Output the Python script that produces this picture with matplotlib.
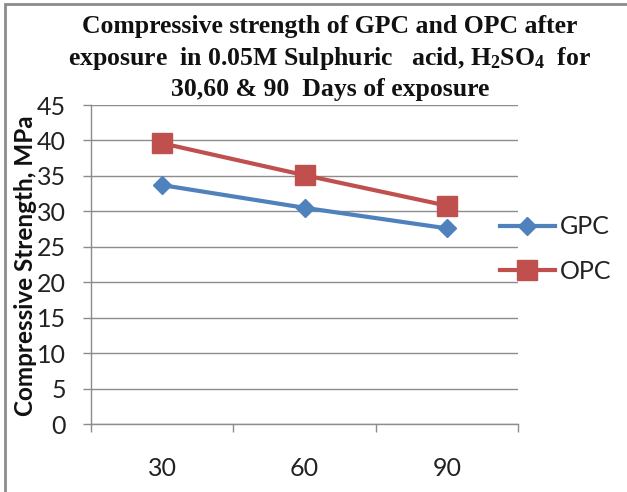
import matplotlib
matplotlib.use("Agg")
import matplotlib.pyplot as plt
from matplotlib.patches import Rectangle

days = ["30", "60", "90"]
gpc = [33.7, 30.5, 27.6]
opc = [39.6, 35.1, 30.8]
series_names = ["GPC", "OPC"]
yticks = [0, 5, 10, 15, 20, 25, 30, 35, 40, 45]

W, H = 627, 492
fig = plt.figure(figsize=(W / 100, H / 100), dpi=100)
fig.patch.set_facecolor("white")

# outer chart frame (only left and top visible)
fig.patches.append(Rectangle((5 / W, -0.5), 2.0, 1.5 - 4 / H, transform=fig.transFigure,
                             fill=False, edgecolor="#8c8c8c", linewidth=2, zorder=0))

ax = fig.add_axes([91 / W, 1 - 424 / H, (518 - 91) / W, (424 - 105) / H])

x = [1, 2, 3]
ax.plot(x, gpc, color="#4F81BD", lw=3, marker="D", markersize=9.5,
        markeredgecolor="#4F81BD", label=series_names[0], zorder=3, clip_on=False)
ax.plot(x, opc, color="#C0504D", lw=3, marker="s", markersize=14,
        markeredgecolor="#C0504D", label=series_names[1], zorder=3, clip_on=False)

ax.set_xlim(0.5, 3.5)
ax.set_ylim(0, 45)
ax.set_yticks(yticks)
ax.set_xticks(x)
ax.set_xticklabels(days)
ax.set_xticks([0.5, 1.5, 2.5, 3.5], minor=True)

for lab in ax.get_xticklabels() + ax.get_yticklabels():
    lab.set_fontfamily("Lato")
    lab.set_fontsize(18)
    lab.set_color("#222222")

ax.tick_params(axis="x", which="major", length=0, pad=24)
ax.tick_params(axis="x", which="minor", length=6, width=1, color="#8c8c8c", direction="out")
ax.tick_params(axis="y", length=6, width=1, color="#8c8c8c", direction="out", pad=12)

ax.grid(axis="y", color="#8c8c8c", linewidth=1)
ax.set_axisbelow(True)
for s in ["top", "right"]:
    ax.spines[s].set_visible(False)
for s in ["left", "bottom"]:
    ax.spines[s].set_color("#8c8c8c")
    ax.spines[s].set_linewidth(1)

ax.set_ylabel("Compressive Strength, MPa", fontfamily="Lato", fontweight="bold",
              fontsize=17.5, color="#111111")
ax.yaxis.set_label_coords(37 / W, 1 - 266 / H, transform=fig.transFigure)

leg = ax.legend(loc="center left", bbox_to_anchor=(487 / W, 1 - 249 / H),
                bbox_transform=fig.transFigure, frameon=False,
                prop=dict(family="Lato", size=18), handlelength=2.2,
                handletextpad=0.2, labelspacing=0.85, borderpad=0)
for t in leg.get_texts():
    t.set_color("#222222")

title = ("Compressive strength of GPC and OPC after\n"
         "exposure  in 0.05M Sulphuric   acid, $\\mathregular{H_2SO_4}$  for\n"
         "30,60 & 90  Days of exposure")
fig.text(330 / W, 1 - 15 / H, title, ha="center", va="top", fontfamily="Liberation Serif",
         fontweight="bold", fontsize=18.5, linespacing=1.33, color="#111111")

fig.savefig("out.png", dpi=100, facecolor="white")
